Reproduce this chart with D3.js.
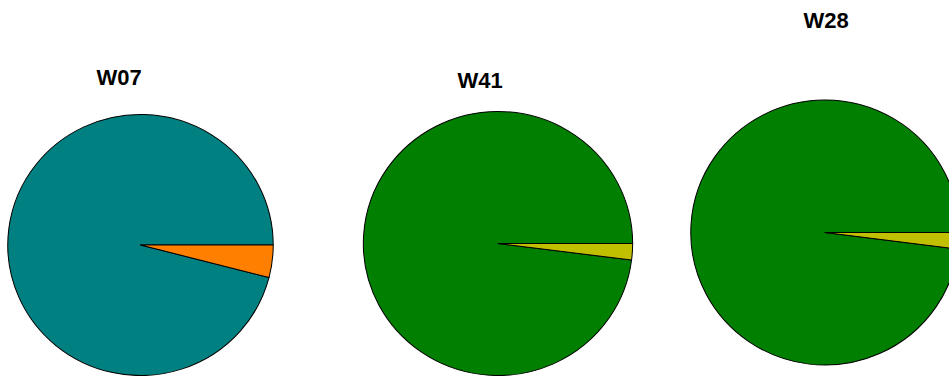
<!DOCTYPE html>
<html>
<head>
<meta charset="utf-8">
<script src="https://cdn.jsdelivr.net/npm/d3@7"></script>
<style>
  html, body { margin: 0; padding: 0; background: #fff; overflow: hidden; }
  svg { display: block; }
</style>
</head>
<body>
<svg id="chart" width="949" height="376"></svg>
<script>
// Data
const pieTitles = ["W07", "W41", "W28"];
const w07Values = [96, 4];
const w41Values = [98, 2];
const w28Values = [98, 2];
const w07Colors = ["#008080", "#FF8000"];
const w41Colors = ["#007F00", "#C0C000"];
const w28Colors = ["#007F00", "#C0C000"];

const seriesValues = [w07Values, w41Values, w28Values];
const seriesColors = [w07Colors, w41Colors, w28Colors];

// Layout
const layout = [
  { cx: 140.5, cy: 245, r: 130.5, sx: 1.017, tx: 119, ty: 85 },
  { cx: 498,   cy: 243.5, r: 132, sx: 1.02, tx: 480, ty: 88 },
  { cx: 825,   cy: 232.5, r: 132.5, sx: 1.013, tx: 826, ty: 28 }
];

const svg = d3.select("#chart");

const pie = d3.pie()
  .sort(null)
  .value(d => d)
  .startAngle(Math.PI / 2 + 2 * Math.PI)
  .endAngle(Math.PI / 2);

pieTitles.forEach((title, i) => {
  const L = layout[i];
  const arc = d3.arc().innerRadius(0).outerRadius(L.r);
  const g = svg.append("g")
    .attr("transform", `translate(${L.cx},${L.cy}) scale(${L.sx},1)`);
  g.selectAll("path")
    .data(pie(seriesValues[i]))
    .join("path")
    .attr("d", arc)
    .attr("fill", (d, j) => seriesColors[i][j])
    .attr("stroke", "#000")
    .attr("stroke-width", 1)
    .attr("stroke-linejoin", "round");

  svg.append("text")
    .attr("x", L.tx)
    .attr("y", L.ty)
    .attr("text-anchor", "middle")
    .attr("font-family", "Liberation Sans, Arial, sans-serif")
    .attr("font-weight", "bold")
    .attr("font-size", 22)
    .attr("fill", "#000")
    .text(title);
});
</script>
</body>
</html>
